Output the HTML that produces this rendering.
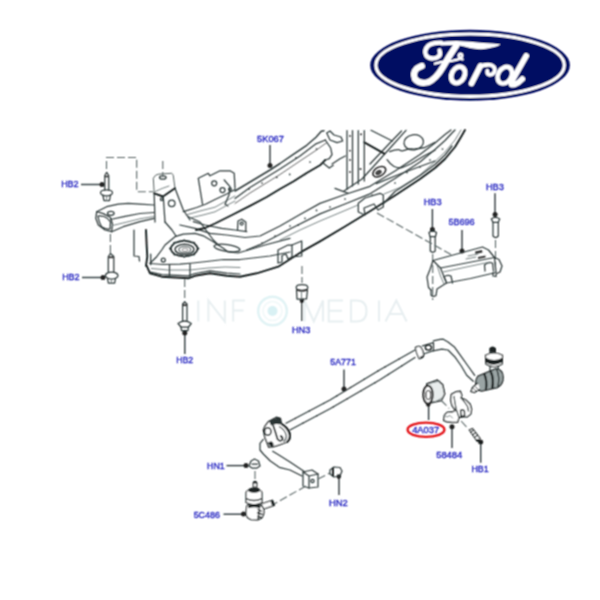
<!DOCTYPE html>
<html><head><meta charset="utf-8"><style>
html,body{margin:0;padding:0;background:#fff;width:600px;height:600px;overflow:hidden}
svg{position:absolute;left:0;top:0}
.l{fill:none;stroke:#2e3a3a;stroke-width:1.25;stroke-linejoin:round;stroke-linecap:round}
.t{fill:none;stroke:#141c1c;stroke-width:1.9;stroke-linejoin:round;stroke-linecap:round}
.f{fill:none;stroke:#6a7676;stroke-width:0.9;stroke-linejoin:round;stroke-linecap:round}
.d{fill:none;stroke:#5a6666;stroke-width:1.1;stroke-dasharray:8 3}
.k{fill:none;stroke:#2e3a3c;stroke-width:1.4}
.lb{font-family:"Liberation Sans",sans-serif;font-size:9.7px;fill:#1e1ec4;stroke:#1e1ebc;stroke-width:0.35}
</style></head><body>
<svg width="600" height="600" viewBox="0 0 600 600">
<defs><filter id="soft" x="0" y="0" width="600" height="600" filterUnits="userSpaceOnUse"><feConvolveMatrix order="3" kernelMatrix="1 2 1 2 4 2 1 2 1" divisor="16" edgeMode="none" preserveAlpha="false"/></filter></defs>
<g filter="url(#soft)">
<!-- FORD LOGO -->
<g id="ford">
<ellipse cx="470.05" cy="65.25" rx="99.85" ry="35.55" fill="#010c62"/>
<ellipse cx="470.1" cy="65.2" rx="94.2" ry="31.2" fill="none" stroke="#fff" stroke-width="3.1"/>
<g fill="#fff" stroke="none">
<!-- F top swoosh -->
<path d="M438 42.3Q447 41 456.7 41Q470 41.5 483.3 43Q494 43.5 500.5 44.3Q499 46 492 47.5Q486 49.2 480.7 49.3Q474 49 470 48Q463.3 46 456.7 44.9Q448 44.8 441 45.6Z"/>
</g>
<g fill="none" stroke="#fff" stroke-linecap="round" stroke-linejoin="round">
<!-- curl -->
<path d="M439.5 50.5Q441.5 55.8 436.5 57.8Q430 59.8 426.3 55.8Q423.3 50.5 428.3 45.6Q433 42.6 441 42.7" stroke-width="4.3"/>
<!-- F stem -->
<path d="M456.5 45.2Q449 56 443 67Q436 79 428 82.3Q419.5 84.6 415 79Q412.5 73 416.5 68.8Q419 67 421.8 66" stroke-width="6.2"/>
<!-- crossbar + e curl -->
<path d="M435 63.6Q441 61.6 448 61.2Q456 60.8 460.5 58.3Q463.5 55.8 461.6 54Q459.3 53 458.6 55.5Q459 58.2 462.5 59.3" stroke-width="2.4"/>
<!-- o -->
<ellipse cx="458.1" cy="74.9" rx="6.4" ry="8.6" transform="rotate(28 458.1 74.9)" stroke-width="4.8"/>
<!-- r -->
<path d="M471.5 83.5L480.5 65.8" stroke-width="5.6"/>
<path d="M479.5 67Q485 64 491 65Q495.5 67 494.8 71Q493.5 75 489.5 74.8Q486.8 74 487.3 70.8" stroke-width="3.8"/>
<!-- d bowl -->
<ellipse cx="504.8" cy="75.2" rx="6.6" ry="8.9" transform="rotate(30 504.8 75.2)" stroke-width="4.4"/>
<!-- d ascender -->
<path d="M526.2 55.9L511.3 82.2Q510.3 85.5 514.3 84.6Q518.8 83 522.3 79" stroke-width="5.6"/>
</g>
</g>

<!-- WATERMARK -->
<g id="wm" fill="none" stroke="#e8eff1" stroke-width="2">
<path d="M198.3 300.5V321.5"/>
<path d="M208.4 321.5V300.5L224.8 321.5V300.5"/>
<path d="M245 300.5H233.2V321.5M233.2 310.5H243.5"/>
<path d="M304.5 321.5V300.5L313.8 321.5L323 300.5V321.5"/>
<path d="M343 300.5H328.7V321.5H343.3M328.7 310.8H342"/>
<path d="M351 300.5V321.5H356.5Q366.5 321.5 366.5 311Q366.5 300.5 356.5 300.5Z"/>
<path d="M379 300.5V321.5"/>
<path d="M385.5 321.5L396.3 300.5L406.6 321.5M389.5 314H402.5"/>
<circle cx="272.5" cy="311" r="14.3" stroke="#e0f3f5" stroke-width="2.4"/>
<circle cx="272.5" cy="311" r="9.5" stroke="#f0f8f9" stroke-width="1.5"/>
<circle cx="272.5" cy="311" r="5" fill="#d9f1f4" stroke="none"/>
</g>

<!-- LABELS -->
<g class="lb">
<text x="61.15" y="186.85" textLength="17.45" lengthAdjust="spacingAndGlyphs">HB2</text>
<text x="62.15" y="279.85" textLength="17.45" lengthAdjust="spacingAndGlyphs">HB2</text>
<text x="257.10" y="141.90" textLength="26.80" lengthAdjust="spacingAndGlyphs">5K067</text>
<text x="423.65" y="204.60" textLength="17.95" lengthAdjust="spacingAndGlyphs">HB3</text>
<text x="485.90" y="189.60" textLength="17.95" lengthAdjust="spacingAndGlyphs">HB3</text>
<text x="448.40" y="224.85" textLength="26.20" lengthAdjust="spacingAndGlyphs">5B696</text>
<text x="176.15" y="363.10" textLength="16.95" lengthAdjust="spacingAndGlyphs">HB2</text>
<text x="291.90" y="332.70" textLength="18.40" lengthAdjust="spacingAndGlyphs">HN3</text>
<text x="330.20" y="365.40" textLength="25.70" lengthAdjust="spacingAndGlyphs">5A771</text>
<text x="412.15" y="433.10" textLength="26.95" lengthAdjust="spacingAndGlyphs">4A037</text>
<text x="436.15" y="457.85" textLength="26.20" lengthAdjust="spacingAndGlyphs">58484</text>
<text x="471.40" y="472.10" textLength="17.20" lengthAdjust="spacingAndGlyphs">HB1</text>
<text x="207.10" y="468.60" textLength="17.60" lengthAdjust="spacingAndGlyphs">HN1</text>
<text x="193.65" y="517.60" textLength="26.20" lengthAdjust="spacingAndGlyphs">5C486</text>
<text x="328.90" y="506.10" textLength="18.70" lengthAdjust="spacingAndGlyphs">HN2</text>
</g>
<ellipse cx="426" cy="429.75" rx="18.4" ry="7.1" fill="none" stroke="#e4141c" stroke-width="2.4"/>

<!-- LEADERS -->
<g class="k">
<path d="M81 184.5H101"/>
<path d="M82 277.5H102"/>
<path d="M270 145V165"/>
<path d="M432.4 209V229"/>
<path d="M495 193.2V214"/>
<path d="M462 230V250"/>
<path d="M184.8 333V354"/>
<path d="M301.9 299V321"/>
<path d="M344 369.5V389"/>
<path d="M428.6 405.6V420"/>
<path d="M452 426.7V448"/>
<path d="M480.7 442V462.7"/>
<path d="M226.5 465.6H245"/>
<path d="M223.5 514.2H243"/>
<path d="M339 478V495"/>
</g>
<g fill="#222">
<circle cx="102" cy="184.5" r="2.5"/>
<circle cx="103" cy="277.5" r="2.5"/>
<circle cx="270" cy="165.5" r="2.5"/>
<circle cx="432.4" cy="229.6" r="2.5"/>
<circle cx="495.1" cy="214.6" r="2.5"/>
<circle cx="462" cy="251" r="2.5"/>
<circle cx="184.8" cy="333" r="2.5"/>
<circle cx="344" cy="389" r="2.5"/>
<circle cx="452" cy="426.7" r="2.5"/>
<circle cx="480.7" cy="442" r="2.5"/>
<circle cx="246" cy="465.6" r="2.5"/>
<circle cx="243.5" cy="514" r="2.5"/>
<circle cx="302" cy="300.8" r="2.3"/>
<circle cx="428.3" cy="404.6" r="2.2"/>
<circle cx="338.8" cy="476.6" r="2.3"/>
</g>

<!-- SUBFRAME -->
<g id="sub">
<!-- left arm -->
<path class="l" d="M96.7 211.7L106.7 206.7L118.3 204.2L128.3 203.3L140 204.2L154.2 205"/>
<path class="l" d="M96.7 211.7L95.8 218.3L98.3 225L105 230L111.7 231.7"/>
<path class="l" d="M96.7 211.7Q104 213 110.5 217.5L112.5 224L111.7 231.7"/>
<path class="l" d="M98 216Q99 223 102 227Q106 229.5 110 229L110.5 222Q108 218 104 216.5Q100 215.5 98 216Z"/>
<ellipse class="l" cx="110.8" cy="213.3" rx="3.3" ry="2"/>
<path class="l" d="M111.7 231.7L123.3 226.7L140 221.7L154.2 218.3"/>
<path class="l" d="M110.5 219.5L125 216.3L140 213.5L154.2 212.5"/>
<path class="f" d="M112.5 225.5L125 222.5L140 218.8L154.2 216.5"/>
<!-- tall bracket -->
<path class="l" style="stroke:#55605f;stroke-width:1" d="M154.2 193.3L153.3 178.3Q155 174.5 158.3 174.2L171.7 173.3Q173 174 173.3 175.8L175 188.3"/>
<ellipse class="l" cx="162.8" cy="177.5" rx="3.3" ry="1.7"/>
<path class="f" d="M155.3 191.5L162 188.5L169 186"/>
<path class="t" d="M154.2 193.3L163 196.5L175 188.3"/>
<path class="l" d="M154.2 194.2L155 222M163.3 196.7L165 222"/>
<path class="l" d="M175 188.3L183.3 210L190 220"/>
<circle class="l" cx="171.7" cy="203.3" r="3.3"/>
<circle class="l" cx="161.7" cy="199.2" r="1.3"/>
<path class="l" d="M165 222L172 230L176 236"/>
<!-- lower left plate -->
<path class="t" d="M146.7 265.8L150 273.3L161.7 276.7L188.3 278.3L195 275.8L210 273.3L226.7 275.8L240 276.7L256.7 273.3L278.3 266.7L301.7 251.7L320 241.3L345 226.5L370 211.3L395 195.5L420 179L435 168L445 159L455 147L461 137L465 130"/>
<path class="l" d="M150 263.3L156.7 256.7L161.7 250L165 245L175 236.7L183.3 234.2L195 233.3L203.3 235.8L213.3 241.7L223.3 248.3L228 252L238 253L248.3 250L265 245L290 238.3"/>
<path class="l" d="M150 263.5L163.3 264.5L180 264.2L193 263L206.7 261.5L223.3 259.5L240 259.5L270 256L290 252"/>
<path class="f" d="M151.5 268.5L168 270L190 270L208 268L225 267L240 267.5"/>
<path class="l" d="M150.5 272.2L161.7 274.7L188.3 275.8L195 273.5L210 270.8L226.7 273.2L240 274"/>
<path class="l" d="M169.5 264.5V275.5M190 264V276.5"/>
<path class="t" d="M146 230L146.7 246L147.3 256.7L146 265.8"/>
<path class="l" d="M134 230V256L139 256.5L139.5 261"/>
<path class="l" d="M150.7 254V264.7"/>
<path d="M198.30 248.60L197.90 249.01L197.41 249.40L197.24 249.79L197.11 250.18L196.95 250.57L196.75 250.95L196.52 251.32L196.26 251.69L195.96 252.05L195.63 252.40L195.27 252.74L194.88 253.07L194.52 253.41L194.40 253.90L194.17 254.36L193.38 254.48L192.56 254.54L191.96 254.75L191.39 254.97L190.80 255.18L190.19 255.37L189.57 255.54L188.93 255.70L188.28 255.83L187.62 255.94L186.94 256.03L186.27 256.11L185.59 256.21L184.92 256.50L184.20 256.74L183.48 256.50L182.81 256.21L182.13 256.11L181.46 256.03L180.78 255.94L180.12 255.83L179.47 255.70L178.83 255.54L178.21 255.37L177.60 255.18L177.01 254.97L176.44 254.75L175.84 254.54L175.02 254.48L174.23 254.36L174.00 253.90L173.88 253.41L173.52 253.07L173.13 252.74L172.77 252.40L172.44 252.05L172.14 251.69L171.88 251.32L171.65 250.95L171.45 250.57L171.29 250.18L171.16 249.79L170.99 249.40L170.50 249.01L170.10 248.60L170.50 248.19L170.99 247.80L171.16 247.41L171.29 247.02L171.45 246.63L171.65 246.25L171.88 245.88L172.14 245.51L172.44 245.15L172.77 244.80L173.13 244.46L173.52 244.13L173.88 243.79L174.00 243.30L174.23 242.84L175.02 242.72L175.84 242.66L176.44 242.45L177.01 242.23L177.60 242.02L178.21 241.83L178.83 241.66L179.47 241.50L180.12 241.37L180.78 241.26L181.46 241.17L182.13 241.09L182.81 240.99L183.48 240.70L184.20 240.46L184.92 240.70L185.59 240.99L186.27 241.09L186.94 241.17L187.62 241.26L188.28 241.37L188.93 241.50L189.57 241.66L190.19 241.83L190.80 242.02L191.39 242.23L191.96 242.45L192.56 242.66L193.38 242.72L194.17 242.84L194.40 243.30L194.52 243.79L194.88 244.13L195.27 244.46L195.63 244.80L195.96 245.15L196.26 245.51L196.52 245.88L196.75 246.25L196.95 246.63L197.11 247.02L197.24 247.41L197.41 247.80L197.90 248.19L198.30 248.60Z" fill="none" stroke="#1c2828" stroke-width="1.8"/>
<ellipse cx="184.5" cy="249.3" rx="9.5" ry="5" fill="none" stroke="#2a3535" stroke-width="1.4"/>
<ellipse cx="184.8" cy="249.6" rx="6" ry="3.2" fill="none" stroke="#6a7474" stroke-width="1.3"/>
<ellipse cx="185" cy="249.8" rx="3" ry="1.6" fill="none" stroke="#888" stroke-width="1"/>
<circle class="l" cx="163.3" cy="260" r="2"/>
<ellipse class="l" cx="227" cy="248" rx="13" ry="3.5" transform="rotate(8 227 248)"/>
<!-- junction / rear beam top edge -->
<path class="l" d="M180 225L195 228.3L210 233.3L226.7 235L245 237.5L260 236L280 226L300 214.5L320 203.4L345 194.5L370 186.3L395 171L420 154.5L435 143L445 134.5L451 130"/>
<path class="l" d="M188.3 216.7L200 222L213.3 240L218.3 245"/>
<path class="l" d="M193.3 221.7L205 225L221.7 228.3L235 230L246.7 231.7"/>
<path class="l" d="M237.5 230L238 221L241.7 219.2L245.8 222L245.8 230.8"/>
<circle class="l" cx="241.7" cy="223.5" r="1.5"/>
<!-- rear beam inner lines -->
<path class="l" d="M246.7 250L260 244.7L290 229L320 213.9L345 204L370 193.8L395 178.5L420 162L435 149.5L445 140.5L452 133L455 130"/>
<path class="f" d="M280 240L300 230L320 221L345 210.5L358 205M384 194L400 187.5L420 175L435 161.5L445 152L455 140L461 130"/>
<path class="l" d="M384 203L395 191.5L410 182L420 175.5L435 164.5L445 155L452 146"/>
<path class="l" d="M406 130.3L391 147L373 167L362 179L344 191"/>
<path class="l" d="M401.5 131L387 146L370 164"/>
<path class="t" d="M364.3 142.3L384.3 153.7"/>
<path class="l" d="M371 130.3L392.3 141"/>
<ellipse class="l" cx="413.7" cy="142.3" rx="9.8" ry="7.6" transform="rotate(-8 413.7 142.3)"/>
<path class="l" d="M389.7 151.7Q395 149.5 399 149.7Q402 151.5 404.3 150.3Q409 148.5 413.7 149Q419 148.8 424.3 147.7L435 142.3"/>
<path class="l" d="M387 159.7Q390 164 393.7 166.3Q398 168.5 401.7 167.7Q406 166 411 163.7L424.3 155.7L435 150.3"/>
<path class="l" d="M376.3 183.7L400 174L420 166.5L435 161"/>
<ellipse cx="379.3" cy="171.7" rx="7" ry="4.4" transform="rotate(-32 379.3 171.7)" fill="none" stroke="#222" stroke-width="1.5"/>
<ellipse cx="378.5" cy="172.5" rx="3.5" ry="2.3" transform="rotate(-32 378.5 172.5)" fill="#444"/>
<path class="l" d="M358.3 203.3L365 198L380 193.3L383.3 195L383.3 207L378 210L374 204L364 208L365 215L358.3 212Z"/>
<path class="l" d="M278 250L288 245L292 245L292 257L288 259L286 254L282 255.5L282 262L278 263Z"/>
<path class="l" d="M292 245L301.7 241L301.7 256L292 257"/>
<path class="l" d="M335 188.3L348.3 193.3"/>
<!-- upper beam left part -->
<path class="l" d="M183.3 211.7L196.7 207.5L206 204L215 199.5L226.7 194L235 189.5"/>
<path class="f" d="M186 215L200 211L215 207.2L235 196"/>
<path class="f" d="M190 218L203 215L215 211.8L235 201"/>
<!-- plate bracket on upper beam -->
<path class="l" d="M202.5 204.2L198.3 178.3L208.3 173.3L210 175.8L220 170.8L230 170.8L234.2 173.3L235 188.3"/>
<path class="l" d="M224.2 180L230 186.7L229 195L225 204.2L228 206"/>
<circle class="l" cx="214.2" cy="183.3" r="2.5"/>
<circle class="l" cx="222.5" cy="190" r="2.5"/>
<circle class="l" cx="230" cy="189.2" r="1.4"/>
<!-- upper beam (5K067) -->
<path class="l" style="stroke-width:1.5" d="M235 191L250 182L270 170L280 163.5L293.3 154.3L306.7 145.3L316 137.3L321.3 131.3L324 130.7"/>
<path class="l" d="M235 198.5L250 187.5L280 169L300 156L316 143.8L325.3 140"/>
<path class="l" d="M235 203.5L250 193L280 174.5L300 161L315 151L326.7 142.7" style="stroke:#555;stroke-width:0.9"/>
<path class="t" d="M196 230L205 228L215 223.5L232 215L250 205.8L266.7 197L280 189L293.3 181.5L306.7 173L320 165.3L325.3 160"/>
<path class="l" d="M325.3 140L330.7 148L332 154.7L329.3 158.7L325.3 160"/>
<path class="l" d="M322.7 162.7L329.3 168L333.3 165.3"/>
<path class="l" d="M332 164L340 158.7L345.3 156"/>
<path class="l" d="M326.7 133L330 131L334 135L341 137L342.7 141L337 142.7L330 140Z"/>
<g fill="#2a3434"><circle cx="276.8" cy="177.3" r="0.85"/><circle cx="289.7" cy="174.4" r="0.85"/><circle cx="304.8" cy="174.4" r="0.85"/><circle cx="296" cy="157.8" r="0.85"/><circle cx="262" cy="183" r="0.85"/><circle cx="249" cy="189" r="0.85"/><circle cx="316.5" cy="149" r="0.85"/><circle cx="310" cy="162" r="0.85"/><circle cx="316.5" cy="210.4" r="0.85"/><circle cx="305" cy="218.3" r="0.85"/><circle cx="298.3" cy="225" r="0.85"/><circle cx="290" cy="226" r="0.85"/><circle cx="275" cy="236" r="0.85"/><circle cx="262" cy="243" r="0.85"/><circle cx="330" cy="207" r="0.85"/><circle cx="345" cy="199" r="0.85"/><circle cx="442.5" cy="149" r="0.85"/><circle cx="430" cy="160" r="0.85"/><circle cx="395" cy="183" r="0.85"/><circle cx="407" cy="172.5" r="0.85"/><circle cx="372" cy="195" r="0.85"/><circle cx="420" cy="167" r="0.85"/><circle cx="361" cy="134.3" r="0.85"/><circle cx="360.5" cy="169" r="0.85"/></g>
<!-- vertical channel -->
<path class="l" d="M347 130.5V189.3M352.5 130.5V186M358.3 130.5V184M364.3 130.5V181"/>
<g fill="#333"><circle cx="350" cy="136" r="0.9"/><circle cx="350" cy="150.7" r="0.9"/><circle cx="350" cy="160" r="0.9"/><circle cx="350" cy="172" r="0.9"/><circle cx="361" cy="134.3" r="0.9"/><circle cx="360.5" cy="169" r="0.9"/></g>
</g>

<!-- BOLTS -->
<g id="bolts">
<path class="d" d="M106.5 169V157.5H136.7V191.7H153"/>
<path class="d" d="M162.8 161V177" stroke-dasharray="4 2.5"/>
<!-- HB2 #1 -->
<path class="l" d="M104.8 190V175.5L106.7 172.3L108.7 175.5V190" fill="#fff"/>
<path d="M104.8 176.5H108.7" stroke="#333" stroke-width="1.6"/>
<ellipse class="l" cx="106.5" cy="192.8" rx="6" ry="3"/>
<path class="l" d="M102.8 195L104 200.5H109.5L110.5 195"/>
<path class="f" d="M106.7 196V200.5"/>
<!-- HB2 #2 -->
<path class="d" d="M110.4 234V253"/>
<path class="l" d="M108.3 272V256.5L110.4 253.5L113.8 256.5V272" fill="#fff"/>
<path d="M108.3 257.3H113.8" stroke="#333" stroke-width="1.8"/>
<ellipse class="l" cx="111.7" cy="275.6" rx="6.3" ry="3.5"/>
<path class="l" d="M107.5 278.5L108.3 283H114.7L115.5 278.5"/>
<path class="f" d="M111.3 279.5V283"/>
<!-- HB2 #3 -->
<path class="d" d="M184.7 279V302"/>
<path class="l" d="M182.6 320.5V304L184.7 302L187 304V320.5" fill="#fff"/>
<path d="M182.6 305.2H187" stroke="#333" stroke-width="1.8"/>
<path class="l" d="M178 323.5Q184.7 318.5 191.3 323.5L188.5 327H181Z"/>
<path class="l" d="M181 327L181.5 330.5H188L188.5 327"/>
<!-- HN3 -->
<path class="d" d="M302 266V283"/>
<ellipse class="l" cx="302" cy="287.5" rx="5.8" ry="2.8"/>
<path d="M296.5 289.5Q302 292.5 307.5 289.5" fill="none" stroke="#333" stroke-width="1.6"/>
<path class="l" d="M296.5 290L297 299L306.5 299L307.5 290"/>
<path class="f" d="M301.5 291.5V299"/>
<!-- HB3 left -->
<path class="l" d="M429 232.5Q432.5 229.5 436.5 232.5L435.5 236.5H430Z"/>
<path class="l" d="M430.3 236.5V251Q432.7 253.5 435.2 251V236.5" fill="#fff"/>
<path class="d" d="M432.7 254V300"/>
<!-- HB3 right -->
<path class="l" d="M491.3 219Q495.5 215.8 499.7 219L498.3 222.3H493Z"/>
<path class="l" d="M493 222.3V236Q495.6 239 498.3 236V222.3" fill="#fff"/>
<path class="d" d="M495.5 240V266"/>
</g>

<!-- 5B695 part -->
<g id="p5b">
<path class="l" d="M433 260.5L482.5 247L488.5 250L494.5 257.5L440.5 268Z"/>
<path class="l" d="M440.5 268L446.5 283L470.5 278.5L496 272.5L494.5 257.5"/>
<path class="l" d="M433 260.5L430 269.5L427 277L428.5 287.5L431 290"/>
<path class="l" d="M431 290L431 295Q433 297.5 436 295.5L437 289L446.5 283"/>
<path class="l" d="M446 281L444 277Q447 274.5 451 276L452.5 283"/>
<path class="l" d="M485 271L484.5 265Q488 261.5 492.5 263L493.5 271"/>
<path class="l" d="M494.5 257.5L499 259.5L502 266L500 272L496 274L496 276.5L493 276L493 272.5"/>
<path class="f" d="M437 265L440.5 276L444 284"/>
<path class="f" d="M443 272L490 262"/>
<path d="M475 251.5L482 250L482.5 252.5L475.5 254Z M478 257L485.5 255.5L485.5 257.5L478 259Z" fill="#333"/>
<path class="f" d="M468 256L478 254M466 259L476 257"/>
</g>
<path class="d" d="M377 213L451 254.5"/>

<!-- STABILIZER BAR -->
<g id="bar">
<!-- main bar straight section -->
<path class="l" d="M286 423.3L330 400L380 369.8L415 350"/>
<path class="l" d="M290 430L330 408.7L380 379.8L415 357.5"/>
<g fill="#2a3434"><circle cx="295.3" cy="418.4" r="0.75"/><circle cx="309.4" cy="410.9" r="0.75"/><circle cx="323.6" cy="403.4" r="0.75"/><circle cx="336.8" cy="395.9" r="0.75"/><circle cx="350.5" cy="387.6" r="0.75"/><circle cx="364.2" cy="379.3" r="0.75"/><circle cx="377.9" cy="371.0" r="0.75"/><circle cx="385.2" cy="366.8" r="0.75"/><circle cx="399.1" cy="359.0" r="0.75"/><circle cx="302.8" cy="423.2" r="0.75"/><circle cx="316.9" cy="415.7" r="0.75"/><circle cx="333.5" cy="406.7" r="0.75"/><circle cx="347.3" cy="398.7" r="0.75"/><circle cx="361.2" cy="390.7" r="0.75"/><circle cx="375.0" cy="382.7" r="0.75"/><circle cx="388.4" cy="374.4" r="0.75"/><circle cx="401.9" cy="365.8" r="0.75"/></g>
<!-- right collar -->
<path d="M415.3 347.5Q417.5 345.8 420.5 346.6Q423.8 351 423.8 355.5Q422.5 358.8 419 358.6Q416.2 353 415.3 347.5Z" fill="#fff" stroke="#2a3434" stroke-width="1.2"/>
<path d="M420.5 356.5Q422.5 358.5 423.6 355" fill="none" stroke="#1c2424" stroke-width="1.6"/>
<path class="l" d="M422.5 345.8L433.5 342.6L433.5 350.6L423.5 354"/>
<ellipse cx="428.4" cy="347.6" rx="3.1" ry="2.5" fill="none" stroke="#1c2424" stroke-width="1.4"/>
<!-- right bend -->
<path class="l" d="M433.3 340.8L440 339.3L443.3 339.2L448 342L454.7 347.3L461.3 356.7L468 366L474.7 375.3"/>
<path class="l" d="M433.3 350.8L441.7 349.2L448 350L454.7 356.7L461.3 366L466.7 375.3L473.3 381.3"/>
<!-- left clamp -->
<path d="M268.5 421.5L276.5 417.2L280.5 418.5L281.5 424L287 428L290 433L289.7 439.3L286.5 442.3L279.5 444.8L274 446.5L268.7 447.3L264.7 436.7L263.3 430L265 426Z" fill="#fff" stroke="#1c2424" stroke-width="1.3"/>
<path d="M269 421L279 417L281 420L281.5 424.5L276 424L271 425.5Z" fill="#2a3434"/>
<path d="M281.5 424Q288.5 428 289.8 435Q290 440 286.5 442.3" fill="none" stroke="#1c2424" stroke-width="2.2"/>
<path d="M279 426.5Q285.5 430 286.3 436Q286.3 440 283.5 441.5" fill="none" stroke="#3a4444" stroke-width="1.1"/>
<path d="M273 425Q275.5 432 277.5 439Q280 442.5 282.5 439.5Q283 436.5 280 436" fill="none" stroke="#1c2424" stroke-width="1.8"/>
<ellipse cx="267.8" cy="431.5" rx="3.2" ry="3.8" fill="none" stroke="#1c2424" stroke-width="1.5"/>
<path d="M268 442.5Q269.5 447.5 273.2 446.2Q274.5 442.5 271 441.2Z" fill="#1c2424"/>
<!-- bar left bend down -->
<path class="l" d="M263.3 439.3L260 443.3L260 450L263.3 454L270 460.7L279.3 467.3L290 470L302 476"/>
<path class="l" d="M272.7 451.3L279.3 455.3L290 462L296 466L305 472"/>
<!-- end eye bracket -->
<path class="l" d="M303 472L312 470L318 474L318 487L309 488L303 486Z"/>
<path class="l" d="M303 472L309 476L309 488M309 476L318 474"/>
<circle class="l" cx="312.5" cy="481" r="1.6"/>
<!-- dashed link lines -->
<path class="d" d="M306 486L274 504" stroke-dasharray="4 3"/>
<path class="d" d="M318 479L330 473" stroke-dasharray="3 2"/>
<path class="d" d="M255 471V482" stroke-dasharray="3 2"/>
<!-- HN2 nut -->
<path class="l" d="M330 470L334 467L340 467.5L342 471L340 476L334 477L330 474Z"/>
<path class="t" d="M333 468.5L333 475.5"/>
<!-- HN1 nut -->
<path class="l" d="M249 466L251 461L254.5 459L258.5 461L260 466L257 468L252 468Z"/>
<path class="l" d="M252 464L257.5 464"/>
<!-- 5C486 link -->
<path d="M253.3 487V482.5Q255 480.3 256.8 482.5V487Z" fill="#fff" stroke="#1c2424" stroke-width="1.1"/>
<path d="M253.2 483.5Q255 480 256.8 483.5" fill="#1c2424" stroke="#1c2424" stroke-width="1.4"/>
<path d="M246 493Q246 489.5 254 489Q262 489.5 262 493L262 502.5Q254 507 246 502.5Z" fill="#fff" stroke="#1c2424" stroke-width="1.2"/>
<path d="M248.4 489L248.6 491.5Q254 494 259.6 491.5L259.6 488.8Q254 485.8 248.4 489Z" fill="#1c2424"/>
<path d="M246.3 498.6Q254 502.5 261.7 498.6" fill="none" stroke="#1c2424" stroke-width="1.6"/>
<path d="M261.2 504L272.5 500.3L274.5 505.3L263.5 509Z" fill="#fff" stroke="#1c2424" stroke-width="1.1"/>
<path d="M270.6 501.5L273.2 500.5L274.6 504.8L272 505.8Z" fill="#1c2424"/>
<path d="M246.5 508Q246 504.5 250 504.5L259 504.5Q263.8 505.5 264 512Q263.8 518.5 258 519.8L251 519.6Q246 518 246 513Z" fill="#fff" stroke="#1c2424" stroke-width="1.2"/>
<path d="M248 505.5Q254 503.3 261 505.5L260 508.2Q254 506.3 248.5 508.2Z" fill="#1c2424"/>
<path d="M257.5 509L262 511.5M257 512.5L262.5 514.5M257.5 516L261.5 517.5M259.5 508.5L258 519" stroke="#1c2424" stroke-width="1.4" fill="none"/>
</g>
<!-- 4A037 bushing -->
<g id="bush">
<path d="M426.7 384L437.3 380L442.7 384.7L444.7 394L441.3 400.7L428 403.3Z" fill="#e8ecec" stroke="#1c2424" stroke-width="1.4"/>
<ellipse cx="428" cy="394.7" rx="4.7" ry="9" fill="#fff" stroke="#222" stroke-width="2"/>
<ellipse cx="428.3" cy="395" rx="2.3" ry="4.5" fill="none" stroke="#333" stroke-width="1.2"/>
<path class="f" d="M431 383L440 381M433 403L442 398"/>
</g>
<!-- 58484 bracket -->
<g id="brk">
<path d="M451.3 394.4L456.2 391.6L460.4 391.3L461.8 395.1L461.1 397.9L466 400L470.2 404.2L471.6 409.1L470.9 414L467.4 416.8L463.2 416.8L459 417.5L457.6 422.4L452 422.4L446 421.5L443.6 420.3L444.3 415.4L447.1 412.3L452 412L455.5 410.5L452 405.6L450.6 400Z" fill="#fff" stroke="#1c2424" stroke-width="1.3"/>
<path class="l" d="M454 396.5L455 403L456.2 409.1L459 417.5"/>
<path class="l" d="M461.1 397.9L464.5 402L467.5 406.5L468.5 411"/>
<path d="M460.6 410.5Q462.5 408.8 464.4 411L464.6 415.8L461 416.5Z" fill="none" stroke="#1c2424" stroke-width="1.5"/>
<path class="f" d="M444.3 415.4L447 417L450 415.5L452.5 418"/>
<path class="d" d="M440.8 400L449.2 408.4" stroke-dasharray="3 2"/>
<path class="d" d="M461.1 421L467.4 428" stroke-dasharray="3 2"/>
<!-- HB1 bolt -->
<path d="M469.3 430L472.5 428.5L480 438.5L477 441Z" fill="#fff" stroke="#1c2424" stroke-width="1.2"/>
<path d="M471 432L474 430M473 434.5L476 432.5M475 437L478 435" stroke="#1c2424" stroke-width="1.1"/>
<path class="t" d="M477 440L481 443"/>
</g>
<!-- right link -->
<g id="rlink">
<path d="M489.3 352.8L489.3 348.2Q492.6 344.6 496 348.2L496 352.8Z" fill="#1c2424"/>
<path d="M485.5 355.2Q494 350.8 502.5 355.2L502.3 364Q494 369.5 485.8 364Z" fill="#fff" stroke="#1c2424" stroke-width="1.2"/>
<path d="M486 357.8Q494 362.3 502.3 357.8L502.2 362.3Q494 367 486 362.5Z" fill="#1c2424"/>
<path class="l" d="M490 366.5V371M498.3 366V370.5"/>
<path d="M478 376.2L496 368.6Q503 369.6 503.2 377Q503.3 384.5 497.3 387.6L481.5 391.2Q476 390.5 475.6 384.5Q475.6 379 478 376.2Z" fill="#9aa4a4" stroke="#1c2424" stroke-width="1.3"/>
<path d="M484.2 373.8Q487.6 381.5 485.8 389.8" fill="none" stroke="#1c2424" stroke-width="2.2"/>
<path d="M490.6 371.2Q494.2 379 492.2 388.6" fill="none" stroke="#1c2424" stroke-width="2.4"/>
<path d="M496.6 369.2Q500.2 377 497.8 387" fill="none" stroke="#2a3434" stroke-width="1.4"/>
<path d="M478 383L472.5 387.5L471 391.5L474.5 392.5L480 389" fill="#fff" stroke="#1c2424" stroke-width="1.3"/>
<path d="M473.5 388.5L476 391M475.5 386.8L478 389.3" stroke="#1c2424" stroke-width="1"/>
</g>
</g>
</svg>
</body></html>
